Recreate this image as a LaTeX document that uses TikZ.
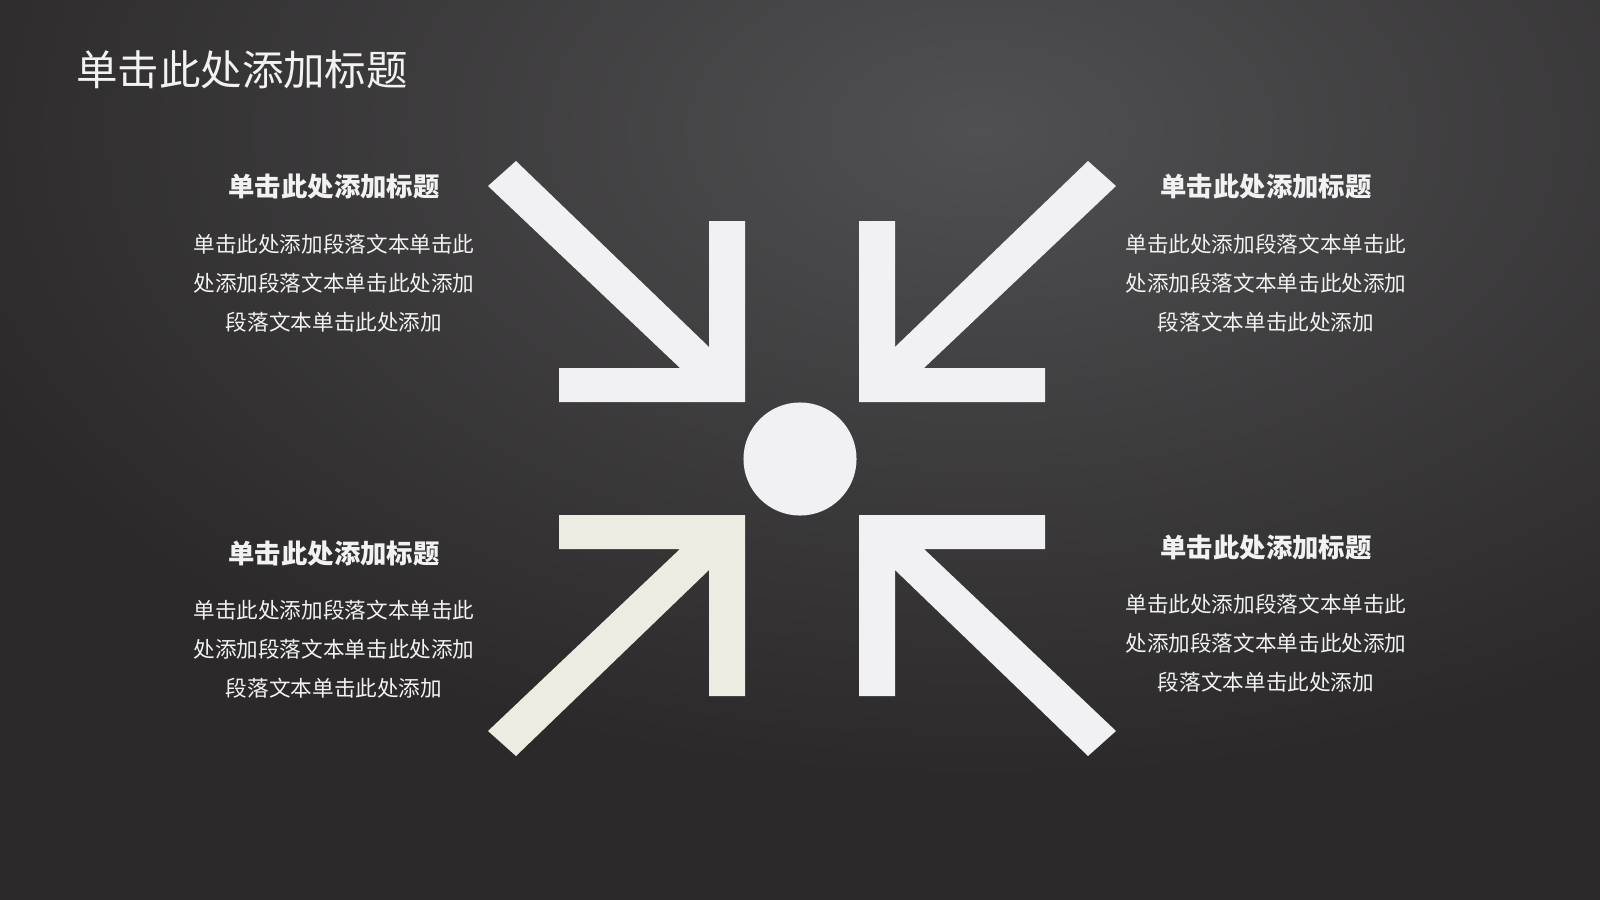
\documentclass[tikz,border=0pt]{standalone}
\usepackage{fontspec}
\setmainfont{Noto Sans CJK SC}
\usetikzlibrary{positioning}
\definecolor{boardDark}{HTML}{2B292A}
\definecolor{boardLight}{HTML}{504F51}
\definecolor{arrowWhite}{HTML}{F1F0F2}
\definecolor{arrowCream}{HTML}{EDECE2}
\definecolor{textWhite}{HTML}{F2F2F2}

\begin{document}
\begin{tikzpicture}[x=0.01cm, y=-0.01cm,
  bigtitle/.style={text=textWhite, font=\fontsize{11.8}{14}\selectfont, inner sep=0pt},
  heading/.style={text=textWhite, font=\fontsize{7.5}{9}\selectfont\bfseries, inner sep=0pt},
  body/.style={text=textWhite, font=\fontsize{6.15}{11.1}\selectfont, align=center, inner sep=0pt},
  inarrow/.pic={\fill[pic actions] (0,0) -- (0,-181) -- (-36,-181) -- (-36,-55) -- (-229,-241)
      -- (-257,-216) -- (-65,-34) -- (-186,-34) -- (-186,0) -- cycle;}]

  % board
  \useasboundingbox (0,0) rectangle (1600,900);
  \fill[boardDark] (0,0) rectangle (1600,900);
  \begin{scope}
    \clip (0,0) rectangle (1600,900);
    \shade[inner color=boardLight, outer color=boardDark] (980,130) ellipse (11cm and 6.5cm);
  \end{scope}

  \node[bigtitle] (title) at (242,70) {单击此处添加标题};

  % four arrows and the hub
  \pic[fill=arrowWhite] (arrTL) at (745,402) {inarrow};
  \pic[fill=arrowWhite, xscale=-1] (arrTR) at (859,402) {inarrow};
  \pic[fill=arrowCream, yscale=-1] (arrBL) at (745,515) {inarrow};
  \pic[fill=arrowWhite, xscale=-1, yscale=-1] (arrBR) at (859,515) {inarrow};
  \node[circle, fill=arrowWhite, minimum size=1.13cm, inner sep=0pt] (hub) at (800,459) {};

  % text blocks
  \node[heading] (headTL) at (334,187) {单击此处添加标题};
  \node[body] (bodyTL) at (334,283) {单击此处添加段落文本单击此\\处添加段落文本单击此处添加\\段落文本单击此处添加};
  \node[heading] (headTR) at (1266,187) {单击此处添加标题};
  \node[body] (bodyTR) at (1266,283) {单击此处添加段落文本单击此\\处添加段落文本单击此处添加\\段落文本单击此处添加};
  \node[heading] (headBL) at (334,554) {单击此处添加标题};
  \node[body] (bodyBL) at (334,649) {单击此处添加段落文本单击此\\处添加段落文本单击此处添加\\段落文本单击此处添加};
  \node[heading] (headBR) at (1266,548) {单击此处添加标题};
  \node[body] (bodyBR) at (1266,643) {单击此处添加段落文本单击此\\处添加段落文本单击此处添加\\段落文本单击此处添加};
\end{tikzpicture}
\end{document}
